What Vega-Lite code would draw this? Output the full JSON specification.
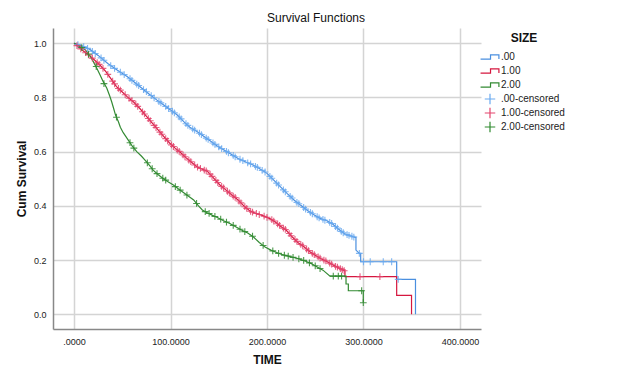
{
  "$schema": "https://vega.github.io/schema/vega-lite/v6.json",
  "width": 428,
  "height": 301,
  "autosize": "none",
  "padding": {"left": 53, "top": 28, "right": 160, "bottom": 49},
  "background": "white",
  "config": {
    "font": "Liberation Sans",
    "view": {"stroke": null},
    "axis": {
      "labelFont": "Liberation Sans",
      "labelFontSize": 9,
      "labelColor": "#222",
      "ticks": false,
      "grid": true,
      "gridColor": "#d4d4d4",
      "gridWidth": 1.5,
      "domainColor": "#888",
      "domainWidth": 1.5,
      "titleFont": "Liberation Sans",
      "titleFontSize": 12,
      "titleFontWeight": "bold",
      "titleColor": "#111"
    },
    "legend": {
      "padding": 0,
      "titleAnchor": "middle",
      "titleFont": "Liberation Sans",
      "titleFontSize": 12,
      "titleFontWeight": "bold",
      "titleColor": "#111",
      "titlePadding": 6,
      "labelFont": "Liberation Sans",
      "labelFontSize": 10,
      "labelColor": "#222",
      "labelOffset": 5,
      "symbolSize": 110,
      "symbolStrokeWidth": 1.2,
      "symbolFillColor": "transparent",
      "rowPadding": -5.4,
      "symbolOpacity": 1
    }
  },
  "title": {
    "text": "Survival Functions",
    "anchor": "middle",
    "dx": 49,
    "offset": 3,
    "fontSize": 12,
    "fontWeight": "normal",
    "font": "Liberation Sans",
    "color": "#111"
  },
  "datasets": {
    "lines": [
      {"g": ".00", "i": 0, "t": 0, "s": 1.0},
      {"g": ".00", "i": 1, "t": 8, "s": 0.99},
      {"g": ".00", "i": 2, "t": 16, "s": 0.978},
      {"g": ".00", "i": 3, "t": 25, "s": 0.955},
      {"g": ".00", "i": 4, "t": 35, "s": 0.925},
      {"g": ".00", "i": 5, "t": 45, "s": 0.9},
      {"g": ".00", "i": 6, "t": 55, "s": 0.877},
      {"g": ".00", "i": 7, "t": 62, "s": 0.858},
      {"g": ".00", "i": 8, "t": 70, "s": 0.835},
      {"g": ".00", "i": 9, "t": 78, "s": 0.812},
      {"g": ".00", "i": 10, "t": 86, "s": 0.79},
      {"g": ".00", "i": 11, "t": 93, "s": 0.772},
      {"g": ".00", "i": 12, "t": 100, "s": 0.754},
      {"g": ".00", "i": 13, "t": 107, "s": 0.735},
      {"g": ".00", "i": 14, "t": 114, "s": 0.71},
      {"g": ".00", "i": 15, "t": 120, "s": 0.69},
      {"g": ".00", "i": 16, "t": 127, "s": 0.675},
      {"g": ".00", "i": 17, "t": 134, "s": 0.658},
      {"g": ".00", "i": 18, "t": 141, "s": 0.64},
      {"g": ".00", "i": 19, "t": 148, "s": 0.622},
      {"g": ".00", "i": 20, "t": 155, "s": 0.607},
      {"g": ".00", "i": 21, "t": 162, "s": 0.592},
      {"g": ".00", "i": 22, "t": 170, "s": 0.575},
      {"g": ".00", "i": 23, "t": 178, "s": 0.562},
      {"g": ".00", "i": 24, "t": 185, "s": 0.552},
      {"g": ".00", "i": 25, "t": 192, "s": 0.538},
      {"g": ".00", "i": 26, "t": 200, "s": 0.52},
      {"g": ".00", "i": 27, "t": 207, "s": 0.495},
      {"g": ".00", "i": 28, "t": 214, "s": 0.47},
      {"g": ".00", "i": 29, "t": 221, "s": 0.445},
      {"g": ".00", "i": 30, "t": 228, "s": 0.422},
      {"g": ".00", "i": 31, "t": 235, "s": 0.402},
      {"g": ".00", "i": 32, "t": 242, "s": 0.383},
      {"g": ".00", "i": 33, "t": 249, "s": 0.366},
      {"g": ".00", "i": 34, "t": 255, "s": 0.354},
      {"g": ".00", "i": 35, "t": 262, "s": 0.345},
      {"g": ".00", "i": 36, "t": 268, "s": 0.333},
      {"g": ".00", "i": 37, "t": 274, "s": 0.315},
      {"g": ".00", "i": 38, "t": 280, "s": 0.298},
      {"g": ".00", "i": 39, "t": 286, "s": 0.29},
      {"g": ".00", "i": 40, "t": 291.2, "s": 0.284},
      {"g": ".00", "i": 41, "t": 292.2, "s": 0.284},
      {"g": ".00", "i": 42, "t": 292.2, "s": 0.237},
      {"g": ".00", "i": 43, "t": 295.7, "s": 0.225},
      {"g": ".00", "i": 44, "t": 297.1, "s": 0.225},
      {"g": ".00", "i": 45, "t": 297.1, "s": 0.194},
      {"g": ".00", "i": 46, "t": 334.4, "s": 0.194},
      {"g": ".00", "i": 47, "t": 334.4, "s": 0.129},
      {"g": ".00", "i": 48, "t": 353.9, "s": 0.129},
      {"g": ".00", "i": 49, "t": 353.9, "s": 0.0},

      {"g": "1.00", "i": 0, "t": 0, "s": 1.0},
      {"g": "1.00", "i": 1, "t": 5, "s": 0.985},
      {"g": "1.00", "i": 2, "t": 10, "s": 0.97},
      {"g": "1.00", "i": 3, "t": 16, "s": 0.955},
      {"g": "1.00", "i": 4, "t": 22, "s": 0.935},
      {"g": "1.00", "i": 5, "t": 28, "s": 0.915},
      {"g": "1.00", "i": 6, "t": 33, "s": 0.895},
      {"g": "1.00", "i": 7, "t": 38, "s": 0.87},
      {"g": "1.00", "i": 8, "t": 44, "s": 0.84},
      {"g": "1.00", "i": 9, "t": 50, "s": 0.82},
      {"g": "1.00", "i": 10, "t": 55, "s": 0.803},
      {"g": "1.00", "i": 11, "t": 62, "s": 0.782},
      {"g": "1.00", "i": 12, "t": 68, "s": 0.76},
      {"g": "1.00", "i": 13, "t": 74, "s": 0.735},
      {"g": "1.00", "i": 14, "t": 80, "s": 0.71},
      {"g": "1.00", "i": 15, "t": 86, "s": 0.685},
      {"g": "1.00", "i": 16, "t": 92, "s": 0.66},
      {"g": "1.00", "i": 17, "t": 99, "s": 0.632},
      {"g": "1.00", "i": 18, "t": 105, "s": 0.612},
      {"g": "1.00", "i": 19, "t": 110, "s": 0.598},
      {"g": "1.00", "i": 20, "t": 116, "s": 0.578},
      {"g": "1.00", "i": 21, "t": 122, "s": 0.56},
      {"g": "1.00", "i": 22, "t": 127, "s": 0.545},
      {"g": "1.00", "i": 23, "t": 133, "s": 0.535},
      {"g": "1.00", "i": 24, "t": 138, "s": 0.528},
      {"g": "1.00", "i": 25, "t": 144, "s": 0.505},
      {"g": "1.00", "i": 26, "t": 151, "s": 0.478},
      {"g": "1.00", "i": 27, "t": 157, "s": 0.46},
      {"g": "1.00", "i": 28, "t": 163, "s": 0.442},
      {"g": "1.00", "i": 29, "t": 170, "s": 0.422},
      {"g": "1.00", "i": 30, "t": 176, "s": 0.4},
      {"g": "1.00", "i": 31, "t": 182, "s": 0.382},
      {"g": "1.00", "i": 32, "t": 188, "s": 0.373},
      {"g": "1.00", "i": 33, "t": 195, "s": 0.365},
      {"g": "1.00", "i": 34, "t": 203, "s": 0.353},
      {"g": "1.00", "i": 35, "t": 208, "s": 0.342},
      {"g": "1.00", "i": 36, "t": 214, "s": 0.325},
      {"g": "1.00", "i": 37, "t": 220, "s": 0.31},
      {"g": "1.00", "i": 38, "t": 226, "s": 0.286},
      {"g": "1.00", "i": 39, "t": 232, "s": 0.265},
      {"g": "1.00", "i": 40, "t": 238, "s": 0.25},
      {"g": "1.00", "i": 41, "t": 244, "s": 0.232},
      {"g": "1.00", "i": 42, "t": 250, "s": 0.218},
      {"g": "1.00", "i": 43, "t": 256, "s": 0.205},
      {"g": "1.00", "i": 44, "t": 262, "s": 0.195},
      {"g": "1.00", "i": 45, "t": 268, "s": 0.183},
      {"g": "1.00", "i": 46, "t": 274, "s": 0.172},
      {"g": "1.00", "i": 47, "t": 279.1, "s": 0.163},
      {"g": "1.00", "i": 48, "t": 280.8, "s": 0.16},
      {"g": "1.00", "i": 49, "t": 280.8, "s": 0.139},
      {"g": "1.00", "i": 50, "t": 334.4, "s": 0.139},
      {"g": "1.00", "i": 51, "t": 334.4, "s": 0.07},
      {"g": "1.00", "i": 52, "t": 349.8, "s": 0.07},
      {"g": "1.00", "i": 53, "t": 349.8, "s": 0.0},

      {"g": "2.00", "i": 0, "t": 0, "s": 1.0},
      {"g": "2.00", "i": 1, "t": 5, "s": 0.99},
      {"g": "2.00", "i": 2, "t": 10, "s": 0.98},
      {"g": "2.00", "i": 3, "t": 13, "s": 0.97},
      {"g": "2.00", "i": 4, "t": 17, "s": 0.95},
      {"g": "2.00", "i": 5, "t": 20, "s": 0.932},
      {"g": "2.00", "i": 6, "t": 24, "s": 0.905},
      {"g": "2.00", "i": 7, "t": 27, "s": 0.883},
      {"g": "2.00", "i": 8, "t": 30, "s": 0.86},
      {"g": "2.00", "i": 9, "t": 34, "s": 0.834},
      {"g": "2.00", "i": 10, "t": 37, "s": 0.805},
      {"g": "2.00", "i": 11, "t": 39, "s": 0.784},
      {"g": "2.00", "i": 12, "t": 41, "s": 0.76},
      {"g": "2.00", "i": 13, "t": 43, "s": 0.735},
      {"g": "2.00", "i": 14, "t": 46, "s": 0.71},
      {"g": "2.00", "i": 15, "t": 48, "s": 0.69},
      {"g": "2.00", "i": 16, "t": 51, "s": 0.67},
      {"g": "2.00", "i": 17, "t": 55, "s": 0.649},
      {"g": "2.00", "i": 18, "t": 60, "s": 0.622},
      {"g": "2.00", "i": 19, "t": 65, "s": 0.6},
      {"g": "2.00", "i": 20, "t": 70, "s": 0.583},
      {"g": "2.00", "i": 21, "t": 74, "s": 0.567},
      {"g": "2.00", "i": 22, "t": 78, "s": 0.55},
      {"g": "2.00", "i": 23, "t": 82, "s": 0.532},
      {"g": "2.00", "i": 24, "t": 87, "s": 0.516},
      {"g": "2.00", "i": 25, "t": 92, "s": 0.502},
      {"g": "2.00", "i": 26, "t": 97, "s": 0.49},
      {"g": "2.00", "i": 27, "t": 103, "s": 0.477},
      {"g": "2.00", "i": 28, "t": 108, "s": 0.463},
      {"g": "2.00", "i": 29, "t": 113, "s": 0.45},
      {"g": "2.00", "i": 30, "t": 118, "s": 0.437},
      {"g": "2.00", "i": 31, "t": 124, "s": 0.422},
      {"g": "2.00", "i": 32, "t": 129, "s": 0.4},
      {"g": "2.00", "i": 33, "t": 133, "s": 0.385},
      {"g": "2.00", "i": 34, "t": 138, "s": 0.375},
      {"g": "2.00", "i": 35, "t": 143, "s": 0.366},
      {"g": "2.00", "i": 36, "t": 148, "s": 0.358},
      {"g": "2.00", "i": 37, "t": 155, "s": 0.345},
      {"g": "2.00", "i": 38, "t": 162, "s": 0.334},
      {"g": "2.00", "i": 39, "t": 168, "s": 0.322},
      {"g": "2.00", "i": 40, "t": 174, "s": 0.31},
      {"g": "2.00", "i": 41, "t": 180, "s": 0.3},
      {"g": "2.00", "i": 42, "t": 186, "s": 0.285},
      {"g": "2.00", "i": 43, "t": 192, "s": 0.265},
      {"g": "2.00", "i": 44, "t": 198, "s": 0.248},
      {"g": "2.00", "i": 45, "t": 204, "s": 0.237},
      {"g": "2.00", "i": 46, "t": 210, "s": 0.228},
      {"g": "2.00", "i": 47, "t": 216, "s": 0.22},
      {"g": "2.00", "i": 48, "t": 224, "s": 0.213},
      {"g": "2.00", "i": 49, "t": 232, "s": 0.206},
      {"g": "2.00", "i": 50, "t": 240, "s": 0.196},
      {"g": "2.00", "i": 51, "t": 246, "s": 0.187},
      {"g": "2.00", "i": 52, "t": 252, "s": 0.175},
      {"g": "2.00", "i": 53, "t": 258, "s": 0.163},
      {"g": "2.00", "i": 54, "t": 265.3, "s": 0.141},
      {"g": "2.00", "i": 55, "t": 281.9, "s": 0.141},
      {"g": "2.00", "i": 56, "t": 281.9, "s": 0.112},
      {"g": "2.00", "i": 57, "t": 284.3, "s": 0.112},
      {"g": "2.00", "i": 58, "t": 284.3, "s": 0.087},
      {"g": "2.00", "i": 59, "t": 299.8, "s": 0.087},
      {"g": "2.00", "i": 60, "t": 299.8, "s": 0.043}
    ],
    "cens": [
      {"g": ".00-censored", "t": 4, "s": 0.995},
      {"g": ".00-censored", "t": 10, "s": 0.987},
      {"g": ".00-censored", "t": 14, "s": 0.981},
      {"g": ".00-censored", "t": 19, "s": 0.97},
      {"g": ".00-censored", "t": 22, "s": 0.962},
      {"g": ".00-censored", "t": 28, "s": 0.946},
      {"g": ".00-censored", "t": 31, "s": 0.937},
      {"g": ".00-censored", "t": 38, "s": 0.917},
      {"g": ".00-censored", "t": 42, "s": 0.907},
      {"g": ".00-censored", "t": 48, "s": 0.893},
      {"g": ".00-censored", "t": 52, "s": 0.884},
      {"g": ".00-censored", "t": 58, "s": 0.869},
      {"g": ".00-censored", "t": 60, "s": 0.863},
      {"g": ".00-censored", "t": 65, "s": 0.849},
      {"g": ".00-censored", "t": 67, "s": 0.844},
      {"g": ".00-censored", "t": 72, "s": 0.829},
      {"g": ".00-censored", "t": 75, "s": 0.821},
      {"g": ".00-censored", "t": 80, "s": 0.807},
      {"g": ".00-censored", "t": 83, "s": 0.798},
      {"g": ".00-censored", "t": 88, "s": 0.785},
      {"g": ".00-censored", "t": 90, "s": 0.78},
      {"g": ".00-censored", "t": 95, "s": 0.767},
      {"g": ".00-censored", "t": 98, "s": 0.759},
      {"g": ".00-censored", "t": 102, "s": 0.749},
      {"g": ".00-censored", "t": 104, "s": 0.743},
      {"g": ".00-censored", "t": 109, "s": 0.728},
      {"g": ".00-censored", "t": 111, "s": 0.721},
      {"g": ".00-censored", "t": 116, "s": 0.703},
      {"g": ".00-censored", "t": 118, "s": 0.697},
      {"g": ".00-censored", "t": 123, "s": 0.684},
      {"g": ".00-censored", "t": 125, "s": 0.679},
      {"g": ".00-censored", "t": 130, "s": 0.668},
      {"g": ".00-censored", "t": 132, "s": 0.663},
      {"g": ".00-censored", "t": 137, "s": 0.65},
      {"g": ".00-censored", "t": 139, "s": 0.645},
      {"g": ".00-censored", "t": 144, "s": 0.632},
      {"g": ".00-censored", "t": 146, "s": 0.627},
      {"g": ".00-censored", "t": 150, "s": 0.618},
      {"g": ".00-censored", "t": 153, "s": 0.611},
      {"g": ".00-censored", "t": 158, "s": 0.601},
      {"g": ".00-censored", "t": 160, "s": 0.596},
      {"g": ".00-censored", "t": 165, "s": 0.586},
      {"g": ".00-censored", "t": 167, "s": 0.581},
      {"g": ".00-censored", "t": 172, "s": 0.572},
      {"g": ".00-censored", "t": 175, "s": 0.567},
      {"g": ".00-censored", "t": 180, "s": 0.559},
      {"g": ".00-censored", "t": 183, "s": 0.555},
      {"g": ".00-censored", "t": 188, "s": 0.546},
      {"g": ".00-censored", "t": 190, "s": 0.542},
      {"g": ".00-censored", "t": 195, "s": 0.531},
      {"g": ".00-censored", "t": 198, "s": 0.525},
      {"g": ".00-censored", "t": 203, "s": 0.509},
      {"g": ".00-censored", "t": 205, "s": 0.502},
      {"g": ".00-censored", "t": 210, "s": 0.484},
      {"g": ".00-censored", "t": 212, "s": 0.477},
      {"g": ".00-censored", "t": 217, "s": 0.459},
      {"g": ".00-censored", "t": 219, "s": 0.452},
      {"g": ".00-censored", "t": 224, "s": 0.435},
      {"g": ".00-censored", "t": 226, "s": 0.429},
      {"g": ".00-censored", "t": 231, "s": 0.413},
      {"g": ".00-censored", "t": 233, "s": 0.408},
      {"g": ".00-censored", "t": 238, "s": 0.394},
      {"g": ".00-censored", "t": 240, "s": 0.388},
      {"g": ".00-censored", "t": 245, "s": 0.376},
      {"g": ".00-censored", "t": 247, "s": 0.371},
      {"g": ".00-censored", "t": 252, "s": 0.36},
      {"g": ".00-censored", "t": 254, "s": 0.356},
      {"g": ".00-censored", "t": 258, "s": 0.35},
      {"g": ".00-censored", "t": 260, "s": 0.347},
      {"g": ".00-censored", "t": 265, "s": 0.339},
      {"g": ".00-censored", "t": 267, "s": 0.335},
      {"g": ".00-censored", "t": 271, "s": 0.324},
      {"g": ".00-censored", "t": 273, "s": 0.318},
      {"g": ".00-censored", "t": 277, "s": 0.306},
      {"g": ".00-censored", "t": 279, "s": 0.301},
      {"g": ".00-censored", "t": 283, "s": 0.294},
      {"g": ".00-censored", "t": 285, "s": 0.291},
      {"g": ".00-censored", "t": 288, "s": 0.288},
      {"g": ".00-censored", "t": 290, "s": 0.285},
      {"g": ".00-censored", "t": 295.7, "s": 0.225},
      {"g": ".00-censored", "t": 300, "s": 0.194},
      {"g": ".00-censored", "t": 307, "s": 0.194},
      {"g": ".00-censored", "t": 320.5, "s": 0.194},
      {"g": ".00-censored", "t": 329.2, "s": 0.194},
      {"g": ".00-censored", "t": 336, "s": 0.129},

      {"g": "1.00-censored", "t": 3, "s": 0.991},
      {"g": "1.00-censored", "t": 7, "s": 0.979},
      {"g": "1.00-censored", "t": 12, "s": 0.965},
      {"g": "1.00-censored", "t": 15, "s": 0.957},
      {"g": "1.00-censored", "t": 19, "s": 0.945},
      {"g": "1.00-censored", "t": 24, "s": 0.928},
      {"g": "1.00-censored", "t": 26, "s": 0.922},
      {"g": "1.00-censored", "t": 30, "s": 0.907},
      {"g": "1.00-censored", "t": 35, "s": 0.885},
      {"g": "1.00-censored", "t": 40, "s": 0.86},
      {"g": "1.00-censored", "t": 42, "s": 0.85},
      {"g": "1.00-censored", "t": 46, "s": 0.833},
      {"g": "1.00-censored", "t": 48, "s": 0.827},
      {"g": "1.00-censored", "t": 53, "s": 0.81},
      {"g": "1.00-censored", "t": 57, "s": 0.797},
      {"g": "1.00-censored", "t": 60, "s": 0.788},
      {"g": "1.00-censored", "t": 64, "s": 0.775},
      {"g": "1.00-censored", "t": 66, "s": 0.767},
      {"g": "1.00-censored", "t": 71, "s": 0.747},
      {"g": "1.00-censored", "t": 73, "s": 0.739},
      {"g": "1.00-censored", "t": 77, "s": 0.722},
      {"g": "1.00-censored", "t": 79, "s": 0.714},
      {"g": "1.00-censored", "t": 83, "s": 0.697},
      {"g": "1.00-censored", "t": 85, "s": 0.689},
      {"g": "1.00-censored", "t": 89, "s": 0.672},
      {"g": "1.00-censored", "t": 91, "s": 0.664},
      {"g": "1.00-censored", "t": 95, "s": 0.648},
      {"g": "1.00-censored", "t": 97, "s": 0.64},
      {"g": "1.00-censored", "t": 101, "s": 0.625},
      {"g": "1.00-censored", "t": 103, "s": 0.619},
      {"g": "1.00-censored", "t": 107, "s": 0.606},
      {"g": "1.00-censored", "t": 109, "s": 0.601},
      {"g": "1.00-censored", "t": 113, "s": 0.588},
      {"g": "1.00-censored", "t": 115, "s": 0.581},
      {"g": "1.00-censored", "t": 119, "s": 0.569},
      {"g": "1.00-censored", "t": 121, "s": 0.563},
      {"g": "1.00-censored", "t": 125, "s": 0.551},
      {"g": "1.00-censored", "t": 128, "s": 0.543},
      {"g": "1.00-censored", "t": 131, "s": 0.538},
      {"g": "1.00-censored", "t": 135, "s": 0.532},
      {"g": "1.00-censored", "t": 137, "s": 0.529},
      {"g": "1.00-censored", "t": 141, "s": 0.517},
      {"g": "1.00-censored", "t": 143, "s": 0.509},
      {"g": "1.00-censored", "t": 147, "s": 0.494},
      {"g": "1.00-censored", "t": 149, "s": 0.486},
      {"g": "1.00-censored", "t": 153, "s": 0.472},
      {"g": "1.00-censored", "t": 155, "s": 0.466},
      {"g": "1.00-censored", "t": 159, "s": 0.454},
      {"g": "1.00-censored", "t": 161, "s": 0.448},
      {"g": "1.00-censored", "t": 165, "s": 0.436},
      {"g": "1.00-censored", "t": 167, "s": 0.431},
      {"g": "1.00-censored", "t": 171, "s": 0.418},
      {"g": "1.00-censored", "t": 173, "s": 0.411},
      {"g": "1.00-censored", "t": 177, "s": 0.397},
      {"g": "1.00-censored", "t": 179, "s": 0.391},
      {"g": "1.00-censored", "t": 183, "s": 0.38},
      {"g": "1.00-censored", "t": 185, "s": 0.377},
      {"g": "1.00-censored", "t": 189, "s": 0.372},
      {"g": "1.00-censored", "t": 192, "s": 0.368},
      {"g": "1.00-censored", "t": 197, "s": 0.362},
      {"g": "1.00-censored", "t": 200, "s": 0.358},
      {"g": "1.00-censored", "t": 205, "s": 0.349},
      {"g": "1.00-censored", "t": 207, "s": 0.344},
      {"g": "1.00-censored", "t": 211, "s": 0.334},
      {"g": "1.00-censored", "t": 213, "s": 0.328},
      {"g": "1.00-censored", "t": 217, "s": 0.318},
      {"g": "1.00-censored", "t": 219, "s": 0.313},
      {"g": "1.00-censored", "t": 223, "s": 0.298},
      {"g": "1.00-censored", "t": 225, "s": 0.29},
      {"g": "1.00-censored", "t": 229, "s": 0.276},
      {"g": "1.00-censored", "t": 231, "s": 0.269},
      {"g": "1.00-censored", "t": 235, "s": 0.258},
      {"g": "1.00-censored", "t": 237, "s": 0.253},
      {"g": "1.00-censored", "t": 241, "s": 0.241},
      {"g": "1.00-censored", "t": 243, "s": 0.235},
      {"g": "1.00-censored", "t": 247, "s": 0.225},
      {"g": "1.00-censored", "t": 249, "s": 0.22},
      {"g": "1.00-censored", "t": 253, "s": 0.212},
      {"g": "1.00-censored", "t": 255, "s": 0.207},
      {"g": "1.00-censored", "t": 259, "s": 0.2},
      {"g": "1.00-censored", "t": 261, "s": 0.197},
      {"g": "1.00-censored", "t": 265, "s": 0.189},
      {"g": "1.00-censored", "t": 267, "s": 0.185},
      {"g": "1.00-censored", "t": 271, "s": 0.177},
      {"g": "1.00-censored", "t": 273, "s": 0.174},
      {"g": "1.00-censored", "t": 276, "s": 0.169},
      {"g": "1.00-censored", "t": 278, "s": 0.165},
      {"g": "1.00-censored", "t": 280, "s": 0.161},
      {"g": "1.00-censored", "t": 296.4, "s": 0.139},
      {"g": "1.00-censored", "t": 317, "s": 0.139},

      {"g": "2.00-censored", "t": 8, "s": 0.984},
      {"g": "2.00-censored", "t": 15, "s": 0.96},
      {"g": "2.00-censored", "t": 23, "s": 0.914},
      {"g": "2.00-censored", "t": 31, "s": 0.851},
      {"g": "2.00-censored", "t": 44, "s": 0.727},
      {"g": "2.00-censored", "t": 58, "s": 0.633},
      {"g": "2.00-censored", "t": 62, "s": 0.613},
      {"g": "2.00-censored", "t": 76, "s": 0.559},
      {"g": "2.00-censored", "t": 81, "s": 0.537},
      {"g": "2.00-censored", "t": 86, "s": 0.519},
      {"g": "2.00-censored", "t": 92, "s": 0.502},
      {"g": "2.00-censored", "t": 95, "s": 0.495},
      {"g": "2.00-censored", "t": 105, "s": 0.471},
      {"g": "2.00-censored", "t": 110, "s": 0.458},
      {"g": "2.00-censored", "t": 117, "s": 0.44},
      {"g": "2.00-censored", "t": 127, "s": 0.409},
      {"g": "2.00-censored", "t": 136, "s": 0.379},
      {"g": "2.00-censored", "t": 140, "s": 0.372},
      {"g": "2.00-censored", "t": 146, "s": 0.361},
      {"g": "2.00-censored", "t": 152, "s": 0.351},
      {"g": "2.00-censored", "t": 158, "s": 0.34},
      {"g": "2.00-censored", "t": 165, "s": 0.328},
      {"g": "2.00-censored", "t": 172, "s": 0.314},
      {"g": "2.00-censored", "t": 177, "s": 0.305},
      {"g": "2.00-censored", "t": 185, "s": 0.288},
      {"g": "2.00-censored", "t": 196, "s": 0.254},
      {"g": "2.00-censored", "t": 206, "s": 0.234},
      {"g": "2.00-censored", "t": 212, "s": 0.225},
      {"g": "2.00-censored", "t": 218, "s": 0.218},
      {"g": "2.00-censored", "t": 222, "s": 0.215},
      {"g": "2.00-censored", "t": 227, "s": 0.21},
      {"g": "2.00-censored", "t": 233, "s": 0.205},
      {"g": "2.00-censored", "t": 238, "s": 0.199},
      {"g": "2.00-censored", "t": 244, "s": 0.19},
      {"g": "2.00-censored", "t": 250, "s": 0.179},
      {"g": "2.00-censored", "t": 255, "s": 0.169},
      {"g": "2.00-censored", "t": 268.7, "s": 0.141},
      {"g": "2.00-censored", "t": 273.9, "s": 0.141},
      {"g": "2.00-censored", "t": 277.3, "s": 0.141},
      {"g": "2.00-censored", "t": 298.1, "s": 0.087},
      {"g": "2.00-censored", "t": 299.8, "s": 0.043}
    ]
  },
  "encoding": {
    "x": {
      "field": "t",
      "type": "quantitative",
      "title": "TIME",
      "scale": {"domain": [-21.8, 421.8], "nice": false, "zero": false},
      "axis": {
        "values": [0, 100, 200, 300, 400],
        "labelExpr": "datum.value == 0 ? '.0000' : format(datum.value, '.4f')",
        "labelPadding": 8,
        "titlePadding": 8
      }
    },
    "y": {
      "field": "s",
      "type": "quantitative",
      "title": "Cum Survival",
      "scale": {"domain": [-0.054, 1.056], "nice": false, "zero": false},
      "axis": {
        "values": [0, 0.2, 0.4, 0.6, 0.8, 1.0],
        "format": ".1f",
        "labelPadding": 7,
        "titlePadding": 5
      }
    },
    "color": {
      "field": "g",
      "type": "nominal",
      "title": "SIZE",
      "scale": {
        "domain": [".00", "1.00", "2.00", ".00-censored", "1.00-censored", "2.00-censored"],
        "range": ["#4a8fdf", "#d5173f", "#338a33", "#6aaaf0", "#e3456d", "#2f8a2f"]
      },
      "legend": {
        "title": "SIZE",
        "orient": "none",
        "legendX": 431,
        "legendY": 5,
        "rowPadding": -5.4
      }
    }
  },
  "layer": [
    {
      "data": {"name": "lines"},
      "mark": {"type": "line", "strokeWidth": 1.2, "interpolate": "linear"},
      "encoding": {
        "order": {"field": "i", "type": "quantitative"}
      }
    },
    {
      "data": {"name": "cens"},
      "mark": {
        "type": "point",
        "filled": false,
        "size": 46,
        "strokeWidth": 1.1,
        "opacity": 0.85
      },
      "encoding": {
        "shape": {
          "field": "g",
          "type": "nominal",
          "title": "SIZE",
          "scale": {
            "domain": [".00", "1.00", "2.00", ".00-censored", "1.00-censored", "2.00-censored"],
            "range": [
              "M-1.8,0.4H0.1V-0.4H1.7V0.4M0,-1L0,-1M0,1L0,1",
              "M-1.8,0.4H0.1V-0.4H1.7V0.4M0,-1L0,-1M0,1L0,1",
              "M-1.8,0.4H0.1V-0.4H1.7V0.4M0,-1L0,-1M0,1L0,1",
              "M-1,0H1M0,-1V1",
              "M-1,0H1M0,-1V1",
              "M-1,0H1M0,-1V1"
            ]
          },
          "legend": {
            "title": "SIZE",
            "orient": "none",
            "legendX": 431,
            "legendY": 5,
            "rowPadding": -5.4
          }
        }
      }
    }
  ]
}
